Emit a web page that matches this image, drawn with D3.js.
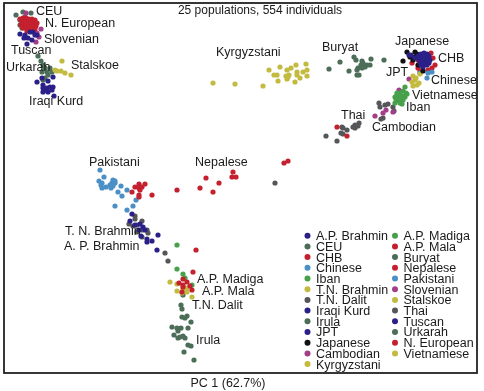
<!DOCTYPE html>
<html>
<head>
<meta charset="utf-8">
<script src="https://d3js.org/d3.v7.min.js"></script>
<style>
  body { margin: 0; background: #fff; }
  svg { display: block; filter: blur(0.4px); }
  text { font-family: "Liberation Sans", Arial, sans-serif; fill: #1a1a1a; }
</style>
</head>
<body>
<div id="chart"></div>
<script>
// PC axes carry no ticks in the source, so values are in units read off the frame
var pc1Extent = [4, 477];
var pc2Extent = [3, 373];

var apBrahmin = [[132,214],[130,221],[140,224],[143,227],[145,230],[139,230],[158,235],[152,241],[147,239],[147,242],[141,236],[157,250],[135,225]];
var ceu = [[16,15],[23,12],[31,13],[20,20],[20,25],[25,17],[22,28]];
var chb = [[431,53],[433,58],[435,65],[432,68],[412,63],[418,68],[420,71],[428,70],[418,60],[337,127],[347,136]];
var chinese = [[432,72],[427,78],[428,73],[420,73]];
var iban = [[405,87],[403,91],[406,93],[400,93],[397,95],[395,97],[398,97],[402,96],[405,97],[407,94],[396,99],[400,99],[403,100],[395,103],[400,103],[402,104],[397,93]];
var tnBrahmin = [[170,282],[177,284],[177,291],[183,289],[187,292],[182,293],[192,297],[187,288]];
var tnDalit = [[135,216],[135,219],[129,224],[133,226],[137,225],[142,221],[137,232],[142,230],[142,237],[147,230],[148,233],[165,253],[168,261],[275,183]];
var iraqiKurd = [[37,82],[42,78],[48,81],[53,77],[43,85],[43,88],[47,88],[50,87],[53,87],[43,92],[48,92],[52,90],[54,96],[45,90]];
var irula = [[183,295],[181,305],[182,309],[182,317],[187,316],[185,318],[191,322],[172,327],[177,328],[181,328],[178,331],[188,328],[174,335],[178,338],[183,336],[185,338],[188,345],[191,346],[184,352],[194,360],[180,337]];
var jpt = [[418,56],[421,54],[424,53],[427,54],[429,56],[419,59],[422,58],[425,57],[428,59],[430,60],[420,62],[423,61],[426,61],[429,63],[421,65],[424,64],[427,65],[423,67],[411,55],[415,58],[409,55]];
var japanese = [[403,61],[407,52],[415,52],[410,57],[413,60],[420,57],[418,65],[423,71],[415,57],[417,54]];
var cambodian = [[409,79],[399,90],[375,116],[383,113],[386,110],[393,112]];
var kyrgyzstani = [[213,83],[235,84],[263,86],[269,70],[280,67],[287,70],[291,68],[296,65],[306,64],[307,70],[303,72],[274,75],[277,75],[278,81],[286,76],[288,77],[287,79],[297,72],[297,75],[300,78],[307,76],[295,82],[289,75]];
var apMadiga = [[177,269],[183,274],[185,278],[192,285],[177,245]];
var apMala = [[193,272],[183,279],[179,283],[187,282],[183,285],[190,286],[192,290],[182,292],[183,287],[196,250]];
var buryat = [[329,69],[340,62],[349,71],[354,57],[356,60],[362,61],[371,59],[384,60],[361,65],[367,65],[370,65],[358,68],[362,68],[357,75],[359,75],[365,67],[363,63],[357,70]];
var nepalese = [[132,192],[135,187],[139,184],[139,188],[142,187],[145,184],[140,190],[139,195],[139,197],[152,195],[177,190],[200,188],[206,178],[213,192],[219,183],[233,172],[232,177],[236,177],[284,163],[288,161]];
var pakistani = [[100,170],[104,177],[99,181],[102,183],[101,185],[102,188],[106,187],[111,188],[110,185],[113,180],[115,181],[112,183],[115,183],[113,186],[121,186],[118,192],[122,196],[127,190],[136,200],[133,206],[127,210],[115,206]];
var slovenian = [[26,13],[41,29],[37,33],[39,37],[36,42],[23,21]];
var stalskoe = [[62,61],[71,75],[57,71],[61,71],[65,73],[55,70]];
var thai = [[379,103],[380,107],[385,105],[388,104],[393,107],[394,111],[399,100],[381,119],[383,118],[359,123],[355,125],[353,127],[355,128],[358,126],[342,127],[343,128],[341,133],[343,134],[326,136],[337,141],[347,130]];
var tuscan = [[20,34],[25,35],[30,32],[33,32],[35,35],[28,38],[24,38],[27,44],[32,40],[37,35]];
var urkarah = [[38,56],[41,61],[43,65],[45,68],[42,72],[50,68],[52,72],[47,72],[45,78],[43,80],[48,75]];
var nEuropean = [[20,19],[23,18],[26,18],[29,19],[32,19],[35,20],[22,22],[25,21],[28,22],[31,22],[34,23],[37,23],[21,25],[24,25],[27,25],[30,25],[33,26],[36,26],[23,28],[26,28],[29,28],[32,29],[35,29],[30,31],[33,31],[27,31],[25,23],[31,27]];
var vietnamese = [[413,76],[415,80],[412,82],[417,85],[419,83],[413,86],[420,74],[416,78]];

var navy = "#2b2088", green = "#47a04a", slate = "#4c6e58", red = "#c4202e",
    blue = "#4a90c6", olive = "#c3ba40", gray = "#56565a", purple = "#a23f88";

var populations = [
    {name: "A.P. Brahmin", points: apBrahmin, color: navy},
    {name: "CEU", points: ceu, color: slate},
    {name: "CHB", points: chb, color: red},
    {name: "Chinese", points: chinese, color: blue},
    {name: "Iban", points: iban, color: green},
    {name: "T.N. Brahmin", points: tnBrahmin, color: olive},
    {name: "T.N. Dalit", points: tnDalit, color: gray},
    {name: "Iraqi Kurd", points: iraqiKurd, color: navy},
    {name: "Irula", points: irula, color: slate},
    {name: "JPT", points: jpt, color: navy},
    {name: "Japanese", points: japanese, color: "#111111"},
    {name: "Cambodian", points: cambodian, color: purple},
    {name: "Kyrgyzstani", points: kyrgyzstani, color: olive},
    {name: "A.P. Madiga", points: apMadiga, color: green},
    {name: "A.P. Mala", points: apMala, color: red},
    {name: "Buryat", points: buryat, color: slate},
    {name: "Nepalese", points: nepalese, color: red},
    {name: "Pakistani", points: pakistani, color: blue},
    {name: "Slovenian", points: slovenian, color: purple},
    {name: "Stalskoe", points: stalskoe, color: olive},
    {name: "Thai", points: thai, color: gray},
    {name: "Tuscan", points: tuscan, color: navy},
    {name: "Urkarah", points: urkarah, color: slate},
    {name: "N. European", points: nEuropean, color: red},
    {name: "Vietnamese", points: vietnamese, color: olive}
];

// draw order follows the stacking seen in the clusters
var stackOrder = ["CEU", "Slovenian", "N. European", "Tuscan", "Urkarah", "Iraqi Kurd", "Stalskoe",
    "Kyrgyzstani", "Buryat", "Pakistani", "Nepalese", "T.N. Dalit", "A.P. Brahmin", "Thai", "CHB",
    "Cambodian", "Iban", "Chinese", "Vietnamese", "Japanese", "JPT", "Irula", "T.N. Brahmin", "A.P. Madiga", "A.P. Mala"];

var width = 484, height = 391;
var svg = d3.select("#chart").append("svg")
    .attr("width", width)
    .attr("height", height);

var xScale = d3.scaleLinear().domain(pc1Extent).range([4, 477]);
var yScale = d3.scaleLinear().domain(pc2Extent).range([3, 373]);

function setupFrame() {
    svg.append("rect")
        .attr("x", xScale.range()[0])
        .attr("y", yScale.range()[0])
        .attr("width", xScale.range()[1] - xScale.range()[0])
        .attr("height", yScale.range()[1] - yScale.range()[0])
        .attr("fill", "#fff")
        .attr("stroke", "#222")
        .attr("stroke-width", 1.8);

    svg.append("text")
        .attr("x", 260)
        .attr("y", 14)
        .attr("text-anchor", "middle")
        .attr("font-size", 12)
        .text("25 populations, 554 individuals");

    svg.append("text")
        .attr("x", 228)
        .attr("y", 387)
        .attr("text-anchor", "middle")
        .attr("font-size", 12.5)
        .text("PC 1 (62.7%)");
}

function setupPoints() {
    var byName = new Map(populations.map(d => [d.name, d]));
    stackOrder.forEach(function(name) {
        var pop = byName.get(name);
        svg.append("g")
            .selectAll("circle")
            .data(pop.points)
            .enter()
            .append("circle")
            .attr("cx", d => xScale(d[0]))
            .attr("cy", d => yScale(d[1]))
            .attr("r", 2.6)
            .attr("fill", pop.color);
    });
}

function setupLabels() {
    var labels = [
        ["CEU", 36, 15], ["N. European", 45, 27], ["Slovenian", 44, 43], ["Tuscan", 11, 54],
        ["Urkarah", 6, 71], ["Stalskoe", 71, 69], ["Iraqi Kurd", 29, 105], ["Kyrgyzstani", 216, 56],
        ["Buryat", 322, 51], ["Japanese", 395, 45], ["CHB", 438, 62], ["JPT", 386, 76],
        ["Chinese", 431, 84], ["Vietnamese", 412, 99], ["Iban", 406, 111], ["Thai", 341, 119],
        ["Cambodian", 372, 131], ["Pakistani", 89, 166], ["Nepalese", 195, 166],
        ["T. N. Brahmin", 65, 235], ["A. P. Brahmin", 64, 250], ["A.P. Madiga", 197, 283],
        ["A.P. Mala", 202, 295], ["T.N. Dalit", 192, 309], ["Irula", 196, 344]
    ];
    svg.append("g")
        .selectAll("text")
        .data(labels)
        .enter()
        .append("text")
        .attr("x", d => d[1])
        .attr("y", d => d[2])
        .attr("font-size", 12.5)
        .text(d => d[0]);
}

function setupLegend() {
    var rowStep = 10.7;
    var legend = svg.append("g");
    var rows = legend.selectAll("g")
        .data(populations)
        .enter()
        .append("g")
        .attr("transform", function(d, i) {
            var col = i < 13 ? 0 : 1;
            var row = i < 13 ? i : i - 13;
            return "translate(" + (col === 0 ? 307.5 : 395) + "," + (235.7 + row * rowStep) + ")";
        });
    rows.append("circle")
        .attr("r", 3)
        .attr("fill", d => d.color);
    rows.append("text")
        .attr("x", 8.5)
        .attr("y", 4.4)
        .attr("font-size", 12.5)
        .text(d => d.name);
}

setupFrame();
setupPoints();
setupLabels();
setupLegend();
</script>
</body>
</html>
